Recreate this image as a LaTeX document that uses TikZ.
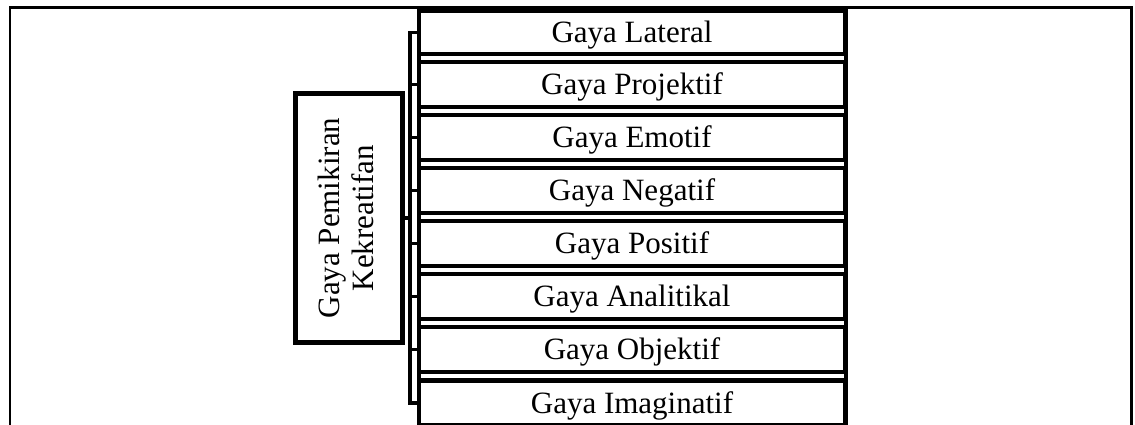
\documentclass[tikz,border=0pt]{standalone}
\usepackage{fontspec}
\setmainfont{Liberation Serif}
\begin{document}
\begin{tikzpicture}[x=1pt,y=-1pt,
  frameline/.style={line width=2.8pt},
  colline/.style={line width=4pt},
  childbox/.style={draw, line width=4.8pt, rectangle, minimum width=426pt, minimum height=45pt,
    inner sep=0pt, font=\fontsize{31pt}{35pt}\selectfont, text height=20.5pt, text depth=0pt},
  parentbox/.style={draw, line width=4.5pt, rectangle, minimum width=107pt, minimum height=249pt,
    inner sep=0pt, font=\fontsize{31pt}{35pt}\selectfont},
  conn/.style={line width=3.6pt}]
\useasboundingbox (0,0) rectangle (1135,425);
\clip (0,0) rectangle (1135,425);
% table frame
\draw[frameline] (10,440) -- (10,7.5) -- (1131.5,7.5) -- (1131.5,440);
\draw[colline] (419,7.5) -- (419,440);
\draw[colline] (845.5,7.5) -- (845.5,440);
% parent
\node[parentbox] (p) at (349,218) {\rotatebox{90}{\begin{tabular}{@{}c@{}}Gaya Pemikiran\\[-1pt]Kekreatifan\end{tabular}}};
% children
\node[childbox, minimum height=43pt] (c1) at (632,32.5) {Gaya Lateral};
\node[childbox] (c2) at (632,84.5) {Gaya Projektif};
\node[childbox] (c3) at (632,137.5) {Gaya Emotif};
\node[childbox] (c4) at (632,190.5) {Gaya Negatif};
\node[childbox] (c5) at (632,243.5) {Gaya Positif};
\node[childbox] (c6) at (632,296.5) {Gaya Analitikal};
\node[childbox] (c7) at (632,349.5) {Gaya Objektif};
\node[childbox] (c8) at (632,403) {Gaya Imaginatif};
% connectors
\coordinate (j) at ([xshift=5.5pt]p.east);
\foreach \c in {c1,c2,c3,c4,c5,c6,c7,c8}
  \draw[conn] (p.east) -- (j) |- (\c.west);
\end{tikzpicture}
\end{document}
